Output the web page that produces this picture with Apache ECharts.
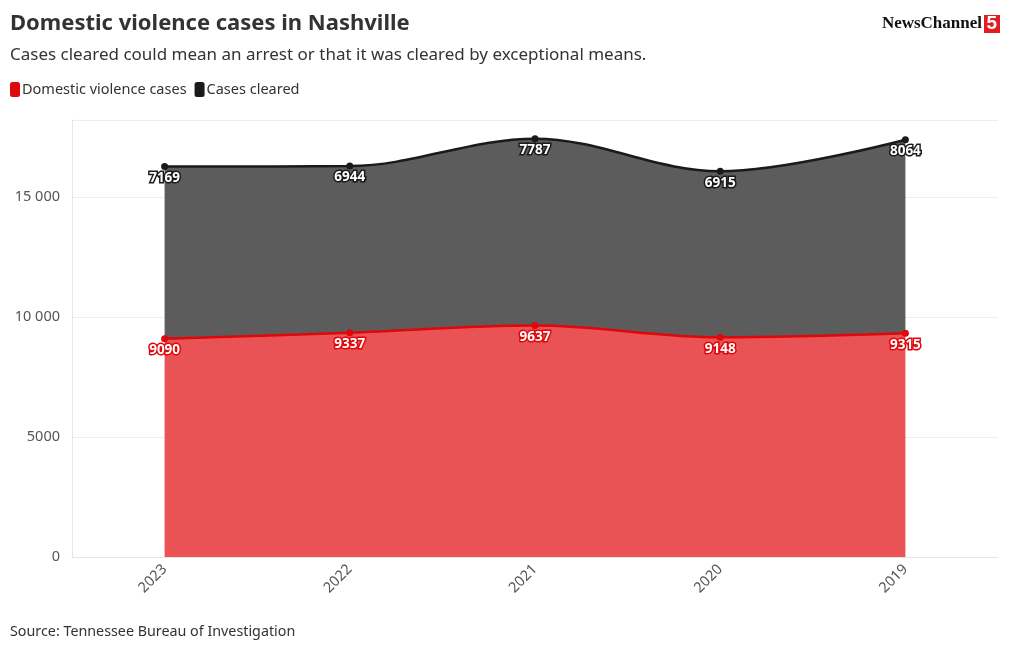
<!DOCTYPE html>
<html><head><meta charset="utf-8">
<script src="https://cdn.jsdelivr.net/npm/echarts@6/dist/echarts.min.js"></script>
<style>html,body{margin:0;padding:0;background:#fff}#c{width:1020px;height:650px}</style>
</head><body><div id="c"></div>
<script>
const categories = ['2023','2022','2021','2020','2019'];
const dvCases = [9090, 9337, 9637, 9148, 9315];
const casesCleared = [7169, 6944, 7787, 6915, 8064];
const yTicks = [0, 5000, 10000, 15000];

const FONT = '"Noto Sans", Roboto, sans-serif';
const chart = echarts.init(document.getElementById('c'));
const fmt = v => v >= 10000 ? String(v).replace(/\B(?=(\d{3})+(?!\d))/g, ' ') : String(v);
chart.setOption({
  animation: false,
  textStyle: {fontFamily: FONT},
  title: [
    {text: 'Domestic violence cases in Nashville', left: 5, top: 8,
     textStyle: {fontSize: 22, fontWeight: 'bold', color: '#333', fontFamily: FONT}},
    {text: 'Cases cleared could mean an arrest or that it was cleared by exceptional means.', left: 5, top: 42,
     textStyle: {fontSize: 17, fontWeight: 'normal', color: '#333', fontFamily: FONT}},
    {text: 'Source: Tennessee Bureau of Investigation', left: 5, top: 620,
     textStyle: {fontSize: 14.3, fontWeight: 'normal', color: '#333', fontFamily: FONT}}
  ],
  graphic: [
    {type: 'text', right: 38, top: 15, style: {text: 'NewsChannel', font: 'bold 17px "Liberation Serif", serif', fill: '#111'}},
    {type: 'rect', right: 20, top: 15, shape: {width: 16, height: 18}, style: {fill: '#e31b23'}},
    {type: 'text', right: 23, top: 14, style: {text: '5', font: 'bold 19px "Liberation Sans", sans-serif', fill: '#fff'}}
  ],
  legend: {
    left: 5, top: 77, itemGap: 8, itemWidth: 10, itemHeight: 15, icon: 'roundRect',
    textStyle: {fontSize: 14.5, color: '#333', fontFamily: FONT, padding: [0,0,0,-3]},
    data: [{name: 'Domestic violence cases', itemStyle: {color: '#e0070b'}},
           {name: 'Cases cleared', itemStyle: {color: '#1a1a1a'}}]
  },
  grid: {left: 72, right: 22, top: 120, bottom: 93},
  xAxis: {
    type: 'category', data: categories, boundaryGap: true,
    axisLine: {lineStyle: {color: '#e6e6e6'}},
    axisTick: {show: false},
    axisLabel: {rotate: 45, color: '#555', fontSize: 14.5, margin: 10, fontFamily: FONT}
  },
  yAxis: {
    type: 'value', min: 0, max: 18200, interval: 5000,
    axisLine: {show: true, lineStyle: {color: '#e6e6e6'}},
    splitLine: {lineStyle: {color: '#eeeeee'}},
    axisLabel: {color: '#555', fontSize: 14.5, margin: 12, fontFamily: FONT,
      formatter: v => yTicks.includes(v) ? fmt(v) : ''}
  },
  series: [
    {name: 'Domestic violence cases', type: 'line', stack: 's', smooth: 0.35, data: dvCases,
     symbol: 'circle', symbolSize: 7,
     itemStyle: {color: '#e0070b'}, lineStyle: {color: '#e0070b', width: 2.5},
     areaStyle: {color: 'rgba(229,40,42,0.8)', opacity: 1},
     label: {show: true, position: 'bottom', distance: 1, color: '#fff', fontSize: 13.5, fontWeight: 'bold',
       textBorderColor: '#e0070b', textBorderWidth: 3, fontFamily: FONT}},
    {name: 'Cases cleared', type: 'line', stack: 's', smooth: 0.35, data: casesCleared,
     symbol: 'circle', symbolSize: 7,
     itemStyle: {color: '#1a1a1a'}, lineStyle: {color: '#1a1a1a', width: 2.5},
     areaStyle: {color: 'rgba(70,70,70,0.88)', opacity: 1},
     label: {show: true, position: 'bottom', distance: 1, color: '#fff', fontSize: 13.5, fontWeight: 'bold',
       textBorderColor: '#1a1a1a', textBorderWidth: 3, fontFamily: FONT}}
  ]
});
</script></body></html>
